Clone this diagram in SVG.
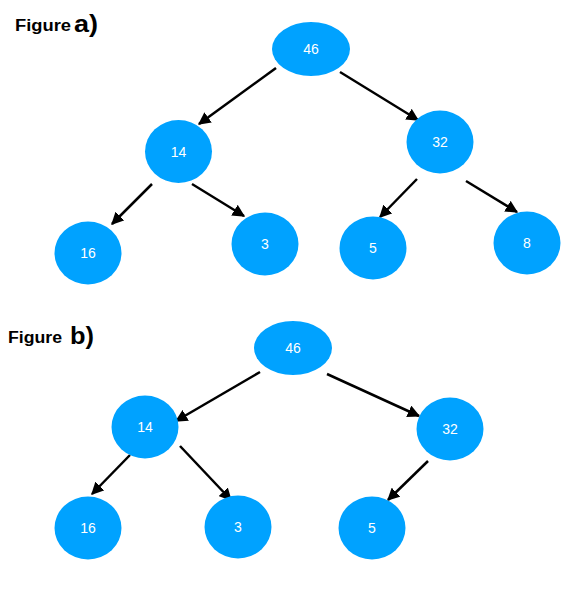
<svg xmlns="http://www.w3.org/2000/svg" width="578" height="591" viewBox="0 0 578 591">
<defs>
<style>
.n{fill:#00a2ff}
.t{fill:#fff;font-family:"Liberation Sans",Arial,sans-serif;font-size:14px;text-anchor:middle}
.c line{stroke:#000;stroke-width:2.5;marker-end:url(#ah)}
.h{font-family:"Liberation Sans",Arial,sans-serif;font-weight:bold;fill:#000}
</style>
<marker id="ah" viewBox="0 0 10 10" refX="9" refY="5" markerWidth="5" markerHeight="5" orient="auto" markerUnits="strokeWidth">
<path d="M0,0 L10,5 L0,10 z" fill="#000"/>
</marker>
</defs>
<rect width="578" height="591" fill="#fff"/>
<text class="h" x="15" y="31" font-size="16" textLength="56" lengthAdjust="spacingAndGlyphs">Figure</text>
<text class="h" x="74" y="32" font-size="24" textLength="24" lengthAdjust="spacingAndGlyphs">a)</text>
<text class="h" x="8" y="343" font-size="16" textLength="54" lengthAdjust="spacingAndGlyphs">Figure</text>
<text class="h" x="70" y="344" font-size="24" textLength="24" lengthAdjust="spacingAndGlyphs">b)</text>
<g class="c" id="connectors">
<line x1="276" y1="68" x2="199" y2="124"/>
<line x1="340" y1="72" x2="418" y2="120"/>
<line x1="152" y1="184" x2="112" y2="224"/>
<line x1="192" y1="184" x2="244" y2="216"/>
<line x1="417" y1="179" x2="380" y2="217"/>
<line x1="466" y1="181" x2="517" y2="212"/>
<line x1="260" y1="372" x2="176" y2="421"/>
<line x1="327" y1="374" x2="419" y2="416"/>
<line x1="130" y1="455" x2="92" y2="494"/>
<line x1="180" y1="446" x2="231" y2="500"/>
<line x1="428" y1="461" x2="388" y2="500"/>
</g>
<g id="a46"><ellipse class="n" cx="311" cy="49" rx="39" ry="27"/><text class="t" x="311" y="54">46</text></g>
<g id="a14"><ellipse class="n" cx="178.5" cy="151.5" rx="33.5" ry="31.5"/><text class="t" x="178.5" y="157">14</text></g>
<g id="a32"><ellipse class="n" cx="440" cy="142" rx="33.5" ry="31.5"/><text class="t" x="440" y="147">32</text></g>
<g id="a16"><ellipse class="n" cx="88" cy="253" rx="33.5" ry="31.5"/><text class="t" x="88" y="258">16</text></g>
<g id="a3"><ellipse class="n" cx="265" cy="244" rx="33.5" ry="31.5"/><text class="t" x="265" y="249">3</text></g>
<g id="a5"><ellipse class="n" cx="373" cy="248" rx="33.5" ry="31.5"/><text class="t" x="373" y="253">5</text></g>
<g id="a8"><ellipse class="n" cx="527" cy="243" rx="33.5" ry="31.5"/><text class="t" x="527" y="248">8</text></g>
<g id="b46"><ellipse class="n" cx="293" cy="348" rx="39" ry="27"/><text class="t" x="293" y="353">46</text></g>
<g id="b14"><ellipse class="n" cx="145" cy="427" rx="33.5" ry="31.5"/><text class="t" x="145" y="432">14</text></g>
<g id="b32"><ellipse class="n" cx="450" cy="429" rx="33.5" ry="31.5"/><text class="t" x="450" y="434">32</text></g>
<g id="b16"><ellipse class="n" cx="88" cy="528" rx="33.5" ry="31.5"/><text class="t" x="88" y="533">16</text></g>
<g id="b3"><ellipse class="n" cx="238" cy="527" rx="33.5" ry="31.5"/><text class="t" x="238" y="532">3</text></g>
<g id="b5"><ellipse class="n" cx="372" cy="528" rx="33.5" ry="31.5"/><text class="t" x="372" y="533">5</text></g>
</svg>
